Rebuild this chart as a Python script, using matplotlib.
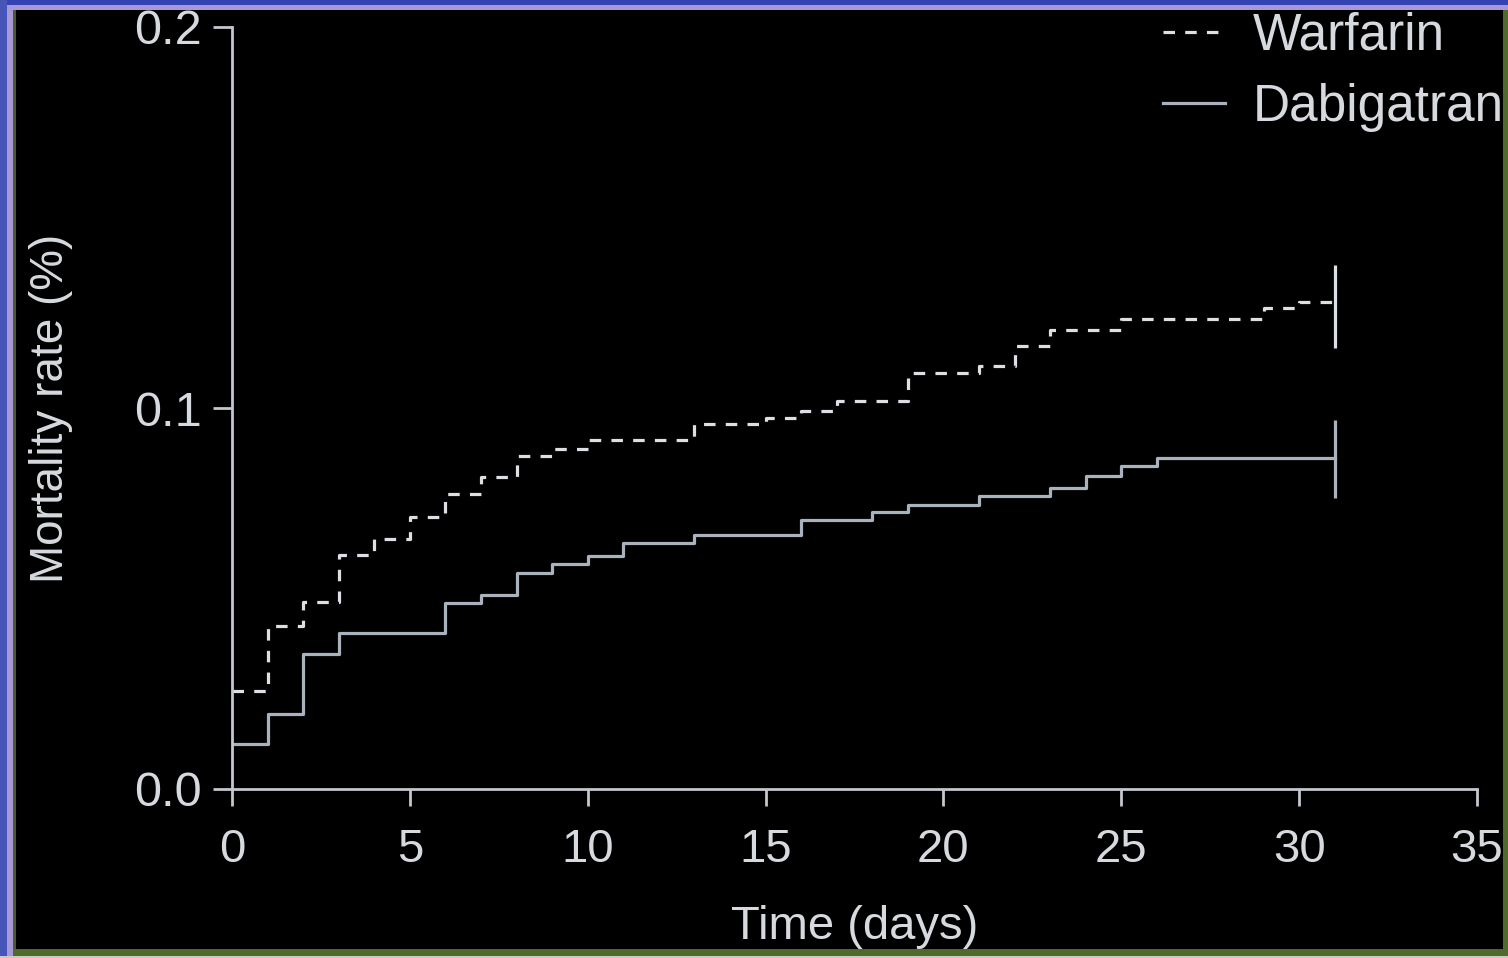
import matplotlib.pyplot as plt
from matplotlib.patches import Rectangle

# Data
warfarin_days = [0, 1, 2, 3, 4, 5, 6, 7, 8, 9, 10, 13, 15, 16, 17, 19, 21, 22, 23, 25, 29, 30, 31]
warfarin_rate = [0.0257, 0.0428, 0.0490, 0.0614, 0.0656, 0.0714, 0.0774, 0.0819, 0.0874, 0.0892,
                 0.0916, 0.0958, 0.0974, 0.0992, 0.1018, 0.1092, 0.1110, 0.1163, 0.1205, 0.1234,
                 0.1262, 0.1278, 0.1278]

dabigatran_days = [0, 1, 2, 3, 6, 7, 8, 9, 10, 11, 13, 16, 18, 19, 21, 23, 24, 25, 26, 31]
dabigatran_rate = [0.0118, 0.0197, 0.0354, 0.0410, 0.0488, 0.0509, 0.0567, 0.0590, 0.0612, 0.0646,
                   0.0667, 0.0706, 0.0727, 0.0745, 0.0769, 0.0790, 0.0822, 0.0848, 0.0869, 0.0869]

# vertical bars at the end of follow-up
end_day = [31, 31]
bar_low = [0.1157, 0.0764]
bar_high = [0.1375, 0.0969]

x_ticks = [0, 5, 10, 15, 20, 25, 30, 35]
y_ticks = [0.0, 0.1, 0.2]
y_labels = ['0.0', '0.1', '0.2']

fg = '#d6d9de'
dash_col = '#dcdfe3'
solid_col = '#aab2be'
axis_col = '#c3c7ce'

plt.rcParams['font.family'] = ['Liberation Sans', 'DejaVu Sans']

fig = plt.figure(figsize=(15.08, 9.58), dpi=100, facecolor='black')
W, H = 1508, 958


def frame_rect(x0, y0, w, h, color):
    # rectangle given in pixels from the top-left corner
    fig.add_artist(Rectangle((x0 / W, 1 - (y0 + h) / H), w / W, h / H,
                             transform=fig.transFigure, color=color, lw=0, zorder=0))


# slide border
frame_rect(0, 0, W, 5, '#3443b2')
frame_rect(0, 5, W, 5, '#a898d8')
frame_rect(0, 0, 7, H, '#4656b8')
frame_rect(7, 5, 6, H - 5, '#a898d8')
frame_rect(13, 10, 3, H - 10, '#4b5d22')
frame_rect(13, 949, W - 13, 7, '#4f6a2a')
frame_rect(0, 956, W, 2, '#c8ccc2')
frame_rect(1503, 10, 5, 946, '#4f6a2a')

ax = fig.add_axes([232 / W, 1 - 789 / H, (1477 - 232) / W, (789 - 27) / H])
ax.set_facecolor('black')

ax.step(warfarin_days, warfarin_rate, where='post', color=dash_col, lw=2.3,
        linestyle=(0, (3.6, 3.2)), label='Warfarin')
ax.step(dabigatran_days, dabigatran_rate, where='post', color=solid_col, lw=2.3,
        label='Dabigatran')
ax.vlines(end_day[0], bar_low[0], bar_high[0], color=dash_col, lw=2.3)
ax.vlines(end_day[1], bar_low[1], bar_high[1], color=solid_col, lw=2.3)

ax.set_xlim(0, 35)
ax.set_ylim(0, 0.2)
ax.set_xticks(x_ticks)
ax.set_yticks(y_ticks)
ax.set_yticklabels(y_labels)

for side in ['top', 'right']:
    ax.spines[side].set_visible(False)
for side in ['left', 'bottom']:
    ax.spines[side].set_color(axis_col)
    ax.spines[side].set_linewidth(2)

ax.tick_params(axis='x', direction='out', length=12, width=2, color=axis_col,
               labelcolor=fg, labelsize=34, pad=16)
ax.tick_params(axis='y', direction='out', length=14, width=2, color=axis_col,
               labelcolor=fg, labelsize=35, pad=8)

ax.set_xlabel('Time (days)', color=fg, fontsize=34, labelpad=24)
ax.set_ylabel('Mortality rate (%)', color=fg, fontsize=33, labelpad=44)

leg = ax.legend(loc='upper left', bbox_to_anchor=(1163 / W, 1 - 12 / H),
                bbox_transform=fig.transFigure, frameon=False, fontsize=37,
                handlelength=1.2, handletextpad=0.55, borderpad=0,
                borderaxespad=0, labelspacing=0.42)
for t in leg.get_texts():
    t.set_color(fg)

fig.savefig('out.png', dpi=100, facecolor='black')
